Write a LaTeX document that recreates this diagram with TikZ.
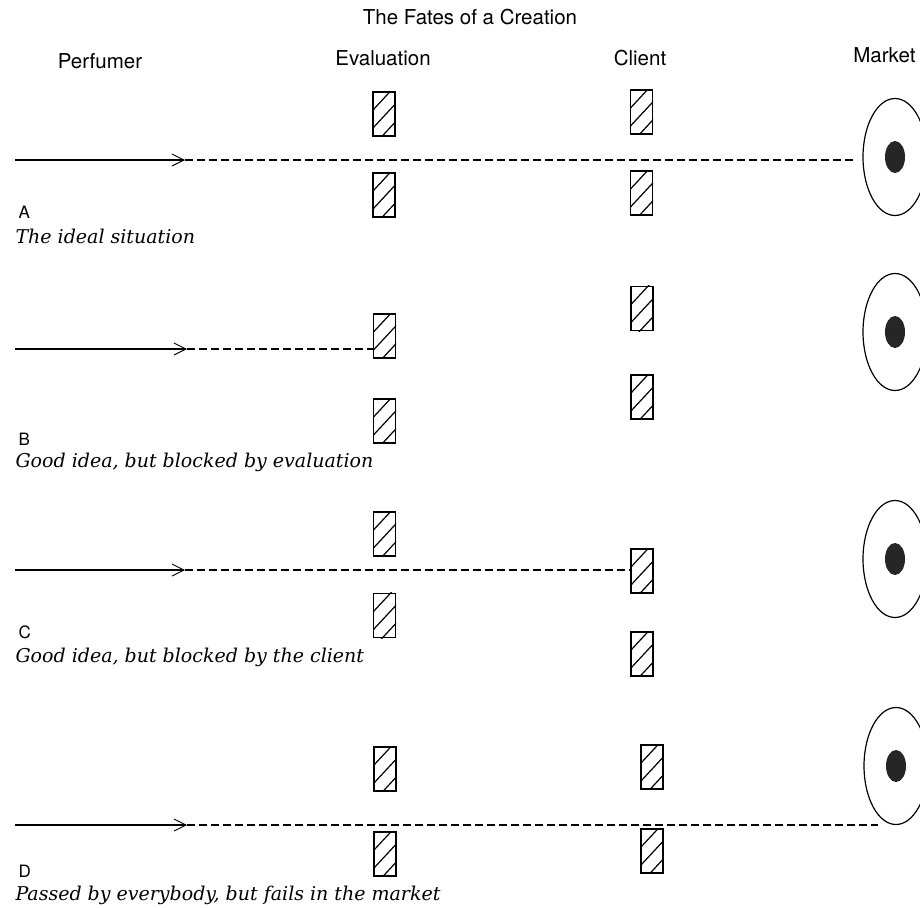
\documentclass[tikz,border=0pt]{standalone}
\usepackage{fontspec}
\newfontfamily\headfont{TeX Gyre Heros}
\newfontfamily\fatefont{DejaVu Serif}
\usetikzlibrary{arrows.meta,shapes.geometric}

%A hatched stage box: name, x, y (pixels, y down)
\newcommand{\stagebox}[3]{%
	\node[stage] (#1) at (#2,#3) {};
	\begin{scope}
		\clip (#1.south west) rectangle (#1.north east);
		\draw[hatch] (#2-11,#3-4) -- ++(26,-28);
		\draw[hatch] (#2-11,#3+14) -- ++(26,-28);
		\draw[hatch] (#2-11,#3+32) -- ++(26,-28);
	\end{scope}}

\begin{document}
\begin{tikzpicture}[x=1pt,y=-1pt,
	stage/.style={draw,line width=1.3pt,minimum width=22pt,minimum height=44pt,inner sep=0pt},
	hatch/.style={line width=1.2pt},
	market/.style={draw,ellipse,line width=1.2pt,minimum width=64pt,minimum height=117pt,inner sep=0pt},
	core/.style={fill=black!85,ellipse,minimum width=20pt,minimum height=32pt,inner sep=0pt},
	idea/.style={line width=2.3pt,-{Straight Barb[length=12pt,width=12pt,line width=0.9pt]}},
	trail/.style={dash pattern=on 8pt off 4pt,line width=1.4pt},
	head/.style={font=\headfont\fontsize{20.5}{24}\selectfont,anchor=base},
	tag/.style={font=\headfont\fontsize{17}{20}\selectfont,anchor=base west},
	fate/.style={font=\fatefont\itshape\fontsize{19}{22}\selectfont,anchor=base west}]
	%Frame of the picture, Market sits on the right edge
	\useasboundingbox (0,0) rectangle (920,907);
	\clip (0,0) rectangle (920,907);
	
	%Headings
	\node[head] (title) at (470,25) {The Fates of a Creation};
	\node[head] (perfumer) at (100,68) {Perfumer};
	\node[head] (evaluation) at (383,66) {Evaluation};
	\node[head] (client) at (640,65) {Client};
	\node[head,anchor=base east] (market) at (919,63) {Market};
	
	%A: the ideal situation
	\stagebox{eA1}{384}{114}
	\stagebox{eA2}{384}{195}
	\stagebox{cA1}{641.5}{112}
	\stagebox{cA2}{641.5}{193}
	\node[market] (mA) at (895,157) {};
	\node[core] (kA) at (mA.center) {};
	\coordinate (sA) at (15,160);
	\coordinate (hA) at (185,160);
	\draw[idea] (sA) -- (hA);
	\draw[trail,shorten >=8pt] (hA) -- (hA -| mA.west);
	\node[tag] (tA) at (15,218) {A};
	\node[fate] (fA) at (12,243) {The ideal situation};
	
	%B: blocked by evaluation
	\stagebox{eB1}{384.5}{336}
	\stagebox{eB2}{384.5}{421}
	\stagebox{cB1}{642}{308.5}
	\stagebox{cB2}{642}{397}
	\node[market] (mB) at (895,332) {};
	\node[core] (kB) at (mB.center) {};
	\coordinate (sB) at (15,349);
	\coordinate (hB) at (187,349);
	\draw[idea] (sB) -- (hB);
	\draw[trail] (hB) -- (hB -| eB1.west);
	\node[tag] (tB) at (15,445) {B};
	\node[fate] (fB) at (12,467) {Good idea, but blocked by evaluation};
	
	%C: blocked by the client
	\stagebox{eC1}{384.5}{534}
	\stagebox{eC2}{384.5}{615.5}
	\stagebox{cC1}{642}{571}
	\stagebox{cC2}{642}{654}
	\node[market] (mC) at (895,559) {};
	\node[core] (kC) at (mC.center) {};
	\coordinate (sC) at (15,570);
	\coordinate (hC) at (185,570);
	\draw[idea] (sC) -- (hC);
	\draw[trail] (hC) -- (hC -| cC1.west);
	\node[tag] (tC) at (15,638) {C};
	\node[fate] (fC) at (12,662) {Good idea, but blocked by the client};
	
	%D: passed by everybody, fails in the market
	\stagebox{eD1}{385}{769}
	\stagebox{eD2}{385}{854}
	\stagebox{cD1}{652}{767}
	\stagebox{cD2}{652}{851}
	\node[market] (mD) at (896,766) {};
	\node[core] (kD) at (mD.center) {};
	\coordinate (sD) at (15,825);
	\coordinate (hD) at (187,825);
	\draw[idea] (sD) -- (hD);
	\draw[trail,shorten >=18pt] (hD) -- (hD -| mD.south);
	\node[tag] (tD) at (15,877) {D};
	\node[fate] (fD) at (12,900) {Passed by everybody, but fails in the market};
\end{tikzpicture}
\end{document}
